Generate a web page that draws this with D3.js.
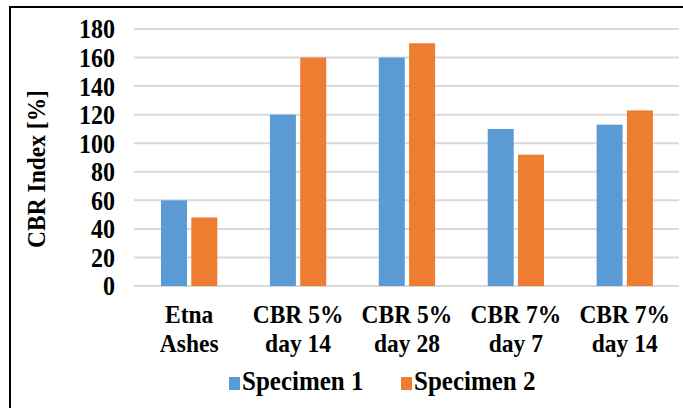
<!DOCTYPE html>
<html>
<head>
<meta charset="utf-8">
<script src="https://cdn.jsdelivr.net/npm/d3@7"></script>
<style>
  html, body { margin: 0; padding: 0; background: #fff; }
  svg { display: block; }
</style>
</head>
<body>
<svg id="chart" width="683" height="408"></svg>
<script>
const categories = [["Etna", "Ashes"], ["CBR 5%", "day 14"], ["CBR 5%", "day 28"], ["CBR 7%", "day 7"], ["CBR 7%", "day 14"]];
const seriesNames = ["Specimen 1", "Specimen 2"];
const specimen1 = [60, 120, 160, 110, 113];
const specimen2 = [48, 160, 170, 92, 123];
const yTicks = [0, 20, 40, 60, 80, 100, 120, 140, 160, 180];
const colors = ["#5b9bd5", "#ed7d31"];

const FONT = "'Liberation Serif', 'Times New Roman', Tinos, serif";
const SY = 1.1;

const svg = d3.select("#chart");
const W = 683, H = 408;

svg.append("rect").attr("x", 10).attr("y", 7).attr("width", W + 10).attr("height", H + 10)
  .attr("fill", "#fff").attr("stroke", "#000").attr("stroke-width", 2);

const catKeys = categories.map(c => c.join(" "));
const x0 = d3.scaleBand().domain(catKeys).range([134.7, 679.2]).paddingInner(0.483).paddingOuter(0.2415);
const x1 = d3.scaleBand().domain(seriesNames).range([0, x0.bandwidth()]).paddingInner(0.142);
const y = d3.scaleLinear().domain([0, 180]).range([286, 29]);

svg.append("g").selectAll("line").data(yTicks).join("line")
  .attr("x1", 134).attr("x2", 679)
  .attr("y1", d => y(d)).attr("y2", d => y(d))
  .attr("stroke", "#d9d9d9").attr("stroke-width", 2);

function styleText(sel, size) {
  return sel.style("font-family", FONT).style("font-weight", "bold").style("font-size", size + "px").attr("fill", "#000");
}

const yAxis = d3.axisLeft(y).tickValues(yTicks).tickSize(0).tickPadding(0);
const ya = svg.append("g").attr("transform", "translate(115,0)").call(yAxis);
ya.attr("font-family", null).attr("font-size", null);
ya.select(".domain").remove();
styleText(ya.selectAll("text"), 24).attr("dy", "0.34em").attr("transform", `scale(1,${SY})`);

const data = catKeys.map((k, i) => ({ key: k, vals: [specimen1[i], specimen2[i]] }));
const groups = svg.append("g").selectAll("g").data(data).join("g")
  .attr("transform", d => `translate(${x0(d.key)},0)`);
groups.selectAll("rect").data(d => d.vals.map((v, j) => ({ s: seriesNames[j], v, j }))).join("rect")
  .attr("x", d => x1(d.s)).attr("width", x1.bandwidth())
  .attr("y", d => y(d.v)).attr("height", d => y(0) - y(d.v))
  .attr("fill", d => colors[d.j]);

const xl = svg.append("g");
categories.forEach((c, i) => {
  const cx = x0(catKeys[i]) + x0.bandwidth() / 2;
  c.forEach((line, li) => {
    styleText(xl.append("text"), 23.5).attr("text-anchor", "middle")
      .attr("transform", `translate(${cx},${323 + li * 28.5}) scale(1,${SY})`).text(line);
  });
});

styleText(svg.append("text"), 23.5).attr("transform", `translate(45,169) rotate(-90) scale(1,${SY})`)
  .attr("text-anchor", "middle").text("CBR Index [%]");

const legendItems = [{ name: seriesNames[0], x: 229, c: colors[0] }, { name: seriesNames[1], x: 401, c: colors[1] }];
const lg = svg.append("g");
legendItems.forEach(it => {
  lg.append("rect").attr("x", it.x).attr("y", 377).attr("width", 11).attr("height", 13).attr("fill", it.c);
  styleText(lg.append("text"), 25).attr("transform", `translate(${it.x + 13},390) scale(1,${SY})`).text(it.name);
});
</script>
</body>
</html>
